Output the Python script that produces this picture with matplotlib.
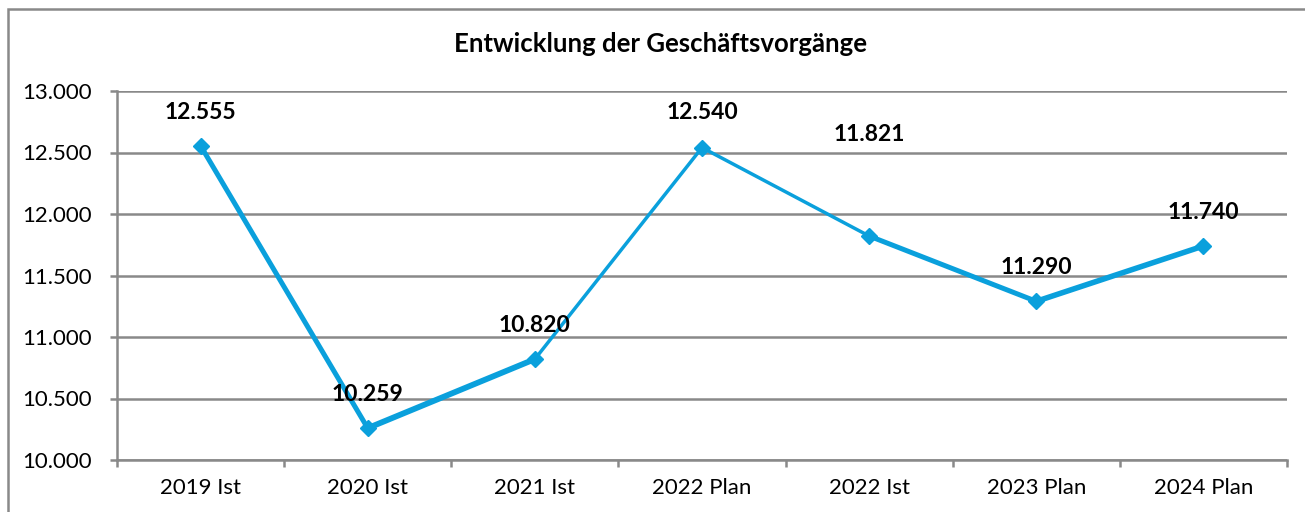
import numpy as np
import matplotlib
matplotlib.use("Agg")
import matplotlib.pyplot as plt
from matplotlib.patches import Rectangle
from matplotlib.ticker import FuncFormatter

plt.rcParams['font.family'] = ['Lato', 'DejaVu Sans']

# data
categories = ['2019 Ist', '2020 Ist', '2021 Ist', '2022 Plan', '2022 Ist', '2023 Plan', '2024 Plan']
values = [12555, 10259, 10820, 12540, 11821, 11290, 11740]
value_labels = ['12.555', '10.259', '10.820', '12.540', '11.821', '11.290', '11.740']

line_color = '#0AA0DC'
grid_color = '#898989'

fig = plt.figure(figsize=[13.05, 5.12], dpi=100)
W, H = 1305, 512
ax = fig.add_axes([117 / W, 52 / H, (1287 - 117) / W, (460 - 91) / H])

x = np.arange(len(categories))

# segment widths differ in the original
seg_widths = [3.6, 4.2, 2.5, 2.5, 3.6, 4.0]
for i in range(len(x) - 1):
    ax.plot(x[i:i + 2], values[i:i + 2], color=line_color, lw=seg_widths[i],
            solid_capstyle='round', zorder=3)
ax.plot(x, values, linestyle='none', marker='D', markersize=8.5,
        color=line_color, zorder=4)

# data labels
label_offsets = [24, 24, 24, 25, 73, 24, 24]
for xi, v, lab, off in zip(x, values, value_labels, label_offsets):
    ax.annotate(lab, (xi, v), xytext=(0, off), textcoords='offset points',
                ha='center', va='center', fontsize=16.5, fontweight='bold', zorder=5)

ax.set_xlim(-0.5, len(categories) - 0.5)
ax.set_ylim(10000, 13000)
ax.set_yticks(np.arange(10000, 13001, 500))
ax.yaxis.set_major_formatter(FuncFormatter(lambda v, p: f'{v:,.0f}'.replace(',', '.')))
ax.set_xticks(x)
ax.set_xticklabels(categories)
ax.set_xticks(np.arange(-0.5, len(categories)), minor=True)
ax.tick_params(axis='x', which='major', length=0, labelsize=16, pad=13)
ax.tick_params(axis='x', which='minor', length=5, width=1.8, color=grid_color)
ax.tick_params(axis='y', length=5, width=1.8, color=grid_color, labelsize=16, pad=13)

ax.grid(axis='y', color=grid_color, lw=1.8)
ax.set_axisbelow(True)
for s in ['top', 'right']:
    ax.spines[s].set_visible(False)
for s in ['left', 'bottom']:
    ax.spines[s].set_color(grid_color)
    ax.spines[s].set_linewidth(1.8)

fig.text(660 / W, 1 - 44 / H, 'Entwicklung der Geschäftsvorgänge', ha='center', va='center',
         fontsize=18.5, fontweight='bold')

# outer chart border
fig.patches.append(Rectangle((8 / W, -0.1), 1.2, 1.1 - 9 / H, transform=fig.transFigure,
                             fill=False, edgecolor=grid_color, lw=1.8))

fig.savefig('out.png', dpi=100)
